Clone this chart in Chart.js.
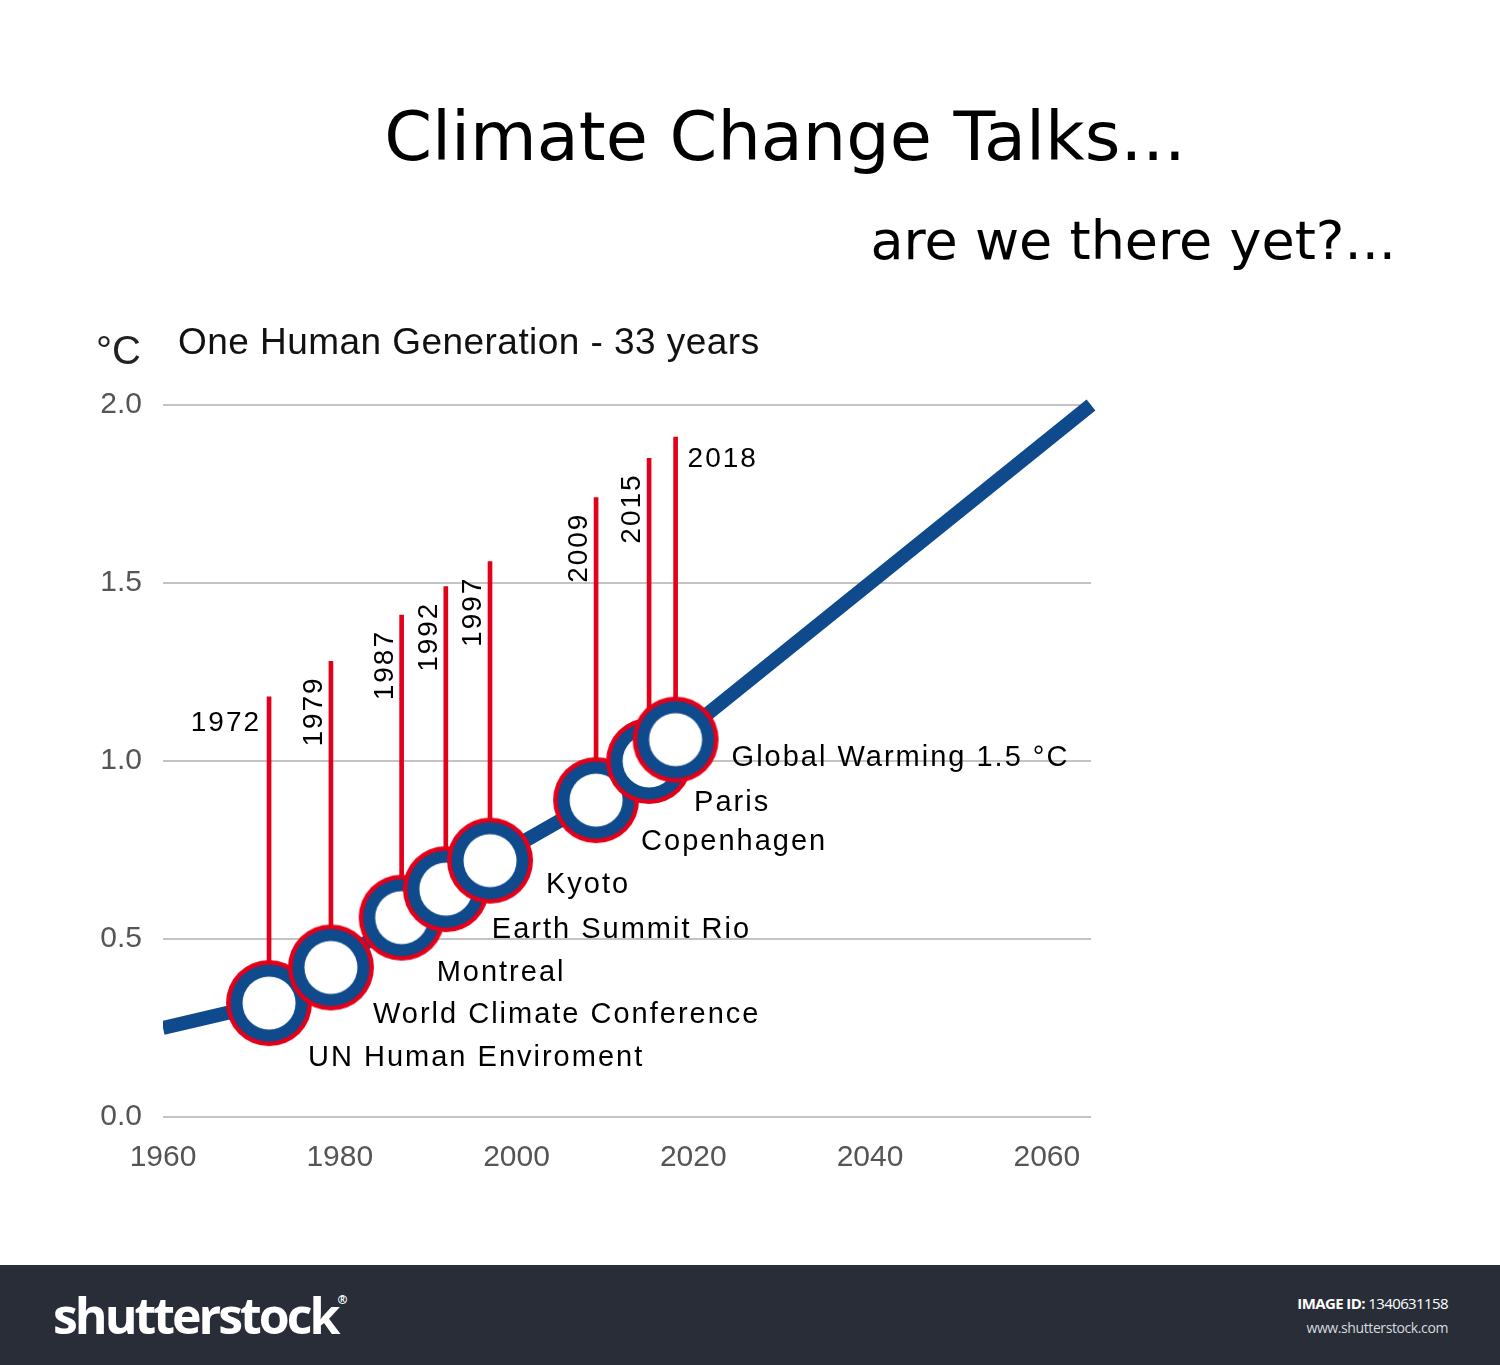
<!DOCTYPE html>
<html>
<head>
<meta charset="utf-8">
<script src="https://cdn.jsdelivr.net/npm/chart.js@4.4.1/dist/chart.umd.min.js"></script>
<style>
html,body{margin:0;padding:0;background:#fff;width:1500px;height:1365px;overflow:hidden}
#wrap{position:absolute;left:0;top:0;width:1500px;height:1265px}
#footer{position:absolute;left:0;top:1265px;width:1500px;height:100px;background:#282d38;color:#fff;font-family:'Open Sans',sans-serif}
#logo{position:absolute;left:53px;top:15px;font-size:50px;font-weight:700;letter-spacing:-3px;line-height:70px}
#imgid{position:absolute;right:52px;top:28px;font-size:15px;letter-spacing:-0.6px;line-height:20px}
#imgid b{font-weight:700}
#www{position:absolute;right:52px;top:53px;font-size:14px;color:#d8dade;letter-spacing:-0.4px;line-height:20px}
</style>
</head>
<body>
<div id="wrap"><canvas id="c" width="1500" height="1265"></canvas></div>
<div id="footer">
  <div id="logo">shutterstock<sup style="font-size:12px;vertical-align:top;line-height:40px;letter-spacing:0">®</sup></div>
  <div id="imgid"><b>IMAGE ID:</b> 1340631158</div>
  <div id="www">www.shutterstock.com</div>
</div>
<script>
// ---- data ----
const titleText = 'Climate Change Talks...';
const subtitleText = 'are we there yet?...';
const unitText = '°C';
const generationText = 'One Human Generation - 33 years';

const trendYears = [1960, 1972, 1979, 1987, 1992, 1997, 2009, 2015, 2018, 2065];
const trendTemps = [0.25, 0.32, 0.42, 0.56, 0.64, 0.72, 0.89, 1.00, 1.06, 2.00];

const eventYears = [1972, 1979, 1987, 1992, 1997, 2009, 2015, 2018];
const eventTemps = [0.32, 0.42, 0.56, 0.64, 0.72, 0.89, 1.00, 1.06];
const eventLineTops = [1.18, 1.28, 1.41, 1.49, 1.56, 1.74, 1.85, 1.91];
const eventNames = ['UN Human Enviroment', 'World Climate Conference', 'Montreal', 'Earth Summit Rio',
                    'Kyoto', 'Copenhagen', 'Paris', 'Global Warming 1.5 °C'];

const xTickValues = [1960, 1980, 2000, 2020, 2040, 2060];
const yTickValues = [0.0, 0.5, 1.0, 1.5, 2.0];

// ---- styles ----
const BLUE = '#0e4a8c';
const RED = '#e2001a';
const yearLabelMode = ['left', 'rot', 'rot', 'rot', 'rot', 'rot', 'rot', 'right'];
const eventLabelOffsets = [[39, 63], [42, 56], [35, 63], [46, 49], [56, 32], [45, 50], [45, 50], [56, 26]];

function makeRing() {
  const c = document.createElement('canvas');
  c.width = 90; c.height = 90;
  const g = c.getContext('2d');
  const disc = (r, col) => { g.fillStyle = col; g.beginPath(); g.arc(45, 45, r, 0, Math.PI * 2); g.fill(); };
  disc(43, RED);
  disc(38.5, BLUE);
  disc(26.5, '#ffffff');
  return c;
}
const ring = makeRing();

const textPlugin = {
  id: 'texts',
  afterDatasetsDraw(chart) {
    const { ctx, scales: { x, y } } = chart;
    ctx.save();
    ctx.fillStyle = '#000';
    ctx.textBaseline = 'alphabetic';
    ctx.font = '68.5px "DejaVu Sans"';
    ctx.textAlign = 'center';
    ctx.fillText(titleText, 785, 160);
    ctx.font = '54px "DejaVu Sans"';
    ctx.textAlign = 'right';
    ctx.fillText(subtitleText, 1396, 259);
    ctx.textAlign = 'left';
    ctx.fillStyle = '#222';
    ctx.font = '40px "Liberation Sans"';
    ctx.fillText(unitText, 96, 364);
    ctx.fillStyle = '#111';
    ctx.font = '37px "Liberation Sans"';
    ctx.letterSpacing = '0.45px';
    ctx.fillText(generationText, 178, 354);

    // year labels
    ctx.fillStyle = '#000';
    ctx.font = '28px "Liberation Sans"';
    ctx.letterSpacing = '2px';
    eventYears.forEach((yr, i) => {
      const px = x.getPixelForValue(yr);
      const top = y.getPixelForValue(eventLineTops[i]);
      const mode = yearLabelMode[i];
      if (mode === 'left') {
        ctx.textAlign = 'right';
        ctx.fillText(String(yr), px - 8, top + 34);
      } else if (mode === 'right') {
        ctx.textAlign = 'left';
        ctx.fillText(String(yr), px + 12, top + 30);
      } else {
        ctx.save();
        ctx.translate(px - 9, top + 15);
        ctx.rotate(-Math.PI / 2);
        ctx.textAlign = 'right';
        ctx.fillText(String(yr), 0, 0);
        ctx.restore();
      }
    });

    // event labels
    ctx.font = '29px "Liberation Sans"';
    ctx.letterSpacing = '2px';
    ctx.textAlign = 'left';
    eventNames.forEach((name, i) => {
      const px = x.getPixelForValue(eventYears[i]);
      const py = y.getPixelForValue(eventTemps[i]);
      const [dx, dy] = eventLabelOffsets[i];
      ctx.fillText(name, px + dx, py + dy);
    });
    ctx.restore();
  }
};

new Chart(document.getElementById('c'), {
  type: 'line',
  data: {
    datasets: [
      {
        label: 'events',
        data: eventYears.map((yr, i) => ({ x: yr, y: eventTemps[i] })),
        showLine: false,
        pointStyle: ring,
        pointRadius: 43,
        pointHoverRadius: 43,
        order: 0
      },
      {
        type: 'bar',
        label: 'talks',
        data: eventYears.map((yr, i) => ({ x: yr, y: [eventTemps[i], eventLineTops[i]] })),
        backgroundColor: RED,
        borderWidth: 0,
        barThickness: 4,
        grouped: false,
        order: 1
      },
      {
        label: 'trend',
        data: trendYears.map((yr, i) => ({ x: yr, y: trendTemps[i] })),
        borderColor: BLUE,
        borderWidth: 14,
        borderCapStyle: 'butt',
        borderJoinStyle: 'round',
        pointRadius: 0,
        tension: 0,
        clip: { left: 0, top: 20, right: 20, bottom: 0 },
        order: 2
      }
    ]
  },
  options: {
    responsive: false,
    devicePixelRatio: 1,
    animation: false,
    layout: { padding: { left: 0, top: 405, right: 409, bottom: 0 } },
    plugins: { legend: { display: false }, tooltip: { enabled: false }, title: { display: false } },
    scales: {
      x: {
        type: 'linear',
        min: 1960,
        max: 2065,
        offset: false,
        afterFit: s => { s.height = 148; },
        afterBuildTicks: s => { s.ticks = xTickValues.map(v => ({ value: v })); },
        grid: { display: false, drawTicks: false },
        border: { display: false },
        ticks: {
          color: '#555',
          font: { family: 'Liberation Sans', size: 30 },
          padding: 23,
          maxRotation: 0,
          callback: v => String(v)
        }
      },
      y: {
        type: 'linear',
        min: 0,
        max: 2,
        afterFit: s => { s.width = 163; },
        afterBuildTicks: s => { s.ticks = yTickValues.map(v => ({ value: v })); },
        grid: { color: '#c4c4c4', lineWidth: 2, drawTicks: false },
        border: { display: false },
        ticks: {
          color: '#555',
          font: { family: 'Liberation Sans', size: 30 },
          padding: 21,
          callback: v => Number(v).toFixed(1)
        }
      }
    }
  },
  plugins: [textPlugin]
});
</script>
</body>
</html>
